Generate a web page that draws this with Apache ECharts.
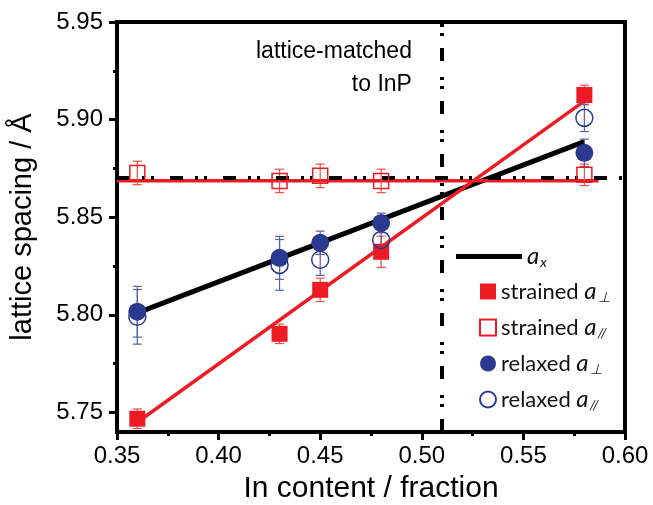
<!DOCTYPE html>
<html>
<head>
<meta charset="utf-8">
<script src="https://cdn.jsdelivr.net/npm/echarts@6/dist/echarts.min.js"></script>
<style>html,body{margin:0;padding:0;background:#fff;}#c{width:653px;height:505px;}</style>
</head>
<body>
<div id="c"></div>
<script>
// ---- data ----
const inContent = [0.36, 0.43, 0.45, 0.48, 0.58];
const strainedPerp = [5.7468, 5.7903, 5.8128, 5.8323, 5.9126];
const strainedPerpErr = [0.005, 0.005, 0.006, 0.008, 0.005];
const strainedPar = [5.8727, 5.8686, 5.8712, 5.8686, 5.8717];
const strainedParErr = [0.006, 0.006, 0.006, 0.006, 0.0055];
const relaxedPerp = [5.8016, 5.8292, 5.8369, 5.8471, 5.8830];
const relaxedPerpErr = [0.013, 0.011, 0.006, 0.005, 0.007];
const relaxedPar = [5.7990, 5.8256, 5.8282, 5.8384, 5.9009];
const relaxedParErr = [0.014, 0.013, 0.008, 0.007, 0.007];

const axFit = [[0.36, 5.801], [0.58, 5.8887]];
const strainedPerpFit = [[0.36, 5.745], [0.582, 5.911]];
const strainedParFit = [[0.35, 5.8687], [0.587, 5.8687]];
const inpLattice = 5.868;
const matchedX = 0.51;
const annotationPos = [0.4954, 5.926];

const xTicks = [0.35, 0.40, 0.45, 0.50, 0.55, 0.60];
const yTicks = [5.75, 5.80, 5.85, 5.90, 5.95];
const yMinorTicks = [5.775, 5.825, 5.875, 5.925];

// ---- chart ----
const RED = '#ed1c24', RED_ERR = '#f0503f', NAVY = '#2b3990', NAVY_ERR = '#5a5ea8';
const pair = (xs, ys) => xs.map((x, i) => [x, ys[i]]);
const errData = (xs, ys, es) => xs.map((x, i) => [x, ys[i], es[i]]);

function errSeries(data, color) {
  return {
    type: 'custom', silent: true, z: 3, legendHoverLink: false,
    renderItem: function (params, api) {
      const x = api.value(0), y = api.value(1), e = api.value(2);
      const t = api.coord([x, y + e]), b = api.coord([x, y - e]);
      const w = 4.5;
      const st = { stroke: color, lineWidth: 1.2 };
      return { type: 'group', children: [
        { type: 'line', shape: { x1: t[0], y1: t[1], x2: b[0], y2: b[1] }, style: st },
        { type: 'line', shape: { x1: t[0] - w, y1: t[1], x2: t[0] + w, y2: t[1] }, style: st },
        { type: 'line', shape: { x1: b[0] - w, y1: b[1], x2: b[0] + w, y2: b[1] }, style: st }
      ]};
    },
    encode: { x: 0, y: 1 },
    data: data
  };
}

const dashDot = [13, 12, 3, 6, 3, 16];
const rich = {
  n: { fontFamily: 'Lato', fontSize: 22, color: '#111', lineHeight: 24 },
  i: { fontFamily: 'Lato', fontSize: 24, fontStyle: 'italic', color: '#111', lineHeight: 24 },
  s: { fontFamily: 'Lato', fontSize: 14, fontStyle: 'italic', color: '#111', lineHeight: 14, padding: [11, 0, 0, 1] }
};
const legendLabels = {
  'ax': '{i|a}{s|x}',
  'strained a⊥': '{n|strained }{i|a}{s|⊥}',
  'strained a//': '{n|strained }{i|a}{s|//}',
  'relaxed a⊥': '{n|relaxed }{i|a}{s|⊥}',
  'relaxed a//': '{n|relaxed }{i|a}{s|//}'
};

const chart = echarts.init(document.getElementById('c'));
chart.setOption({
  animation: false,
  backgroundColor: '#fff',
  grid: { left: 117, right: 28, top: 22, bottom: 73, outerBoundsMode: 'none', containLabel: false,
    show: true, borderColor: '#000', borderWidth: 4, backgroundColor: 'transparent' },
  legend: [
    { data: [{ name: 'ax', icon: 'rect' }], orient: 'vertical', left: 451, top: 239, itemWidth: 66, itemHeight: 5, itemGap: 0,
      formatter: n => legendLabels[n], textStyle: { rich: rich }, selectedMode: false },
    { data: ['strained a⊥', 'strained a//', 'relaxed a⊥', 'relaxed a//'], orient: 'vertical', left: 474, top: 274,
      itemWidth: 16, itemHeight: 16, itemGap: 11, formatter: n => legendLabels[n], textStyle: { rich: rich }, selectedMode: false }
  ],
  xAxis: {
    type: 'value', min: 0.35, max: 0.60, interval: 0.05,
    name: 'In content / fraction', nameLocation: 'middle', nameGap: 42,
    nameTextStyle: { fontFamily: 'Liberation Sans', fontSize: 30, color: '#000' },
    axisLine: { lineStyle: { color: '#000', width: 4 } },
    axisTick: { show: true, inside: false, length: 8, lineStyle: { width: 3, color: '#000' } },
    minorTick: { show: true, splitNumber: 2, length: 4, lineStyle: { width: 3, color: '#000' } },
    splitLine: { show: false },
    axisLabel: { fontFamily: 'Liberation Sans', fontSize: 24, color: '#000', margin: 12,
      customValues: xTicks, formatter: v => v.toFixed(2) }
  },
  yAxis: [
    {
      type: 'value', min: 5.74, max: 5.95,
      name: 'lattice spacing / Å', nameLocation: 'middle', nameGap: 80,
      nameTextStyle: { fontFamily: 'Liberation Sans', fontSize: 29, color: '#000' },
      axisLine: { lineStyle: { color: '#000', width: 4 } },
      axisTick: { show: true, length: 8, customValues: yTicks, lineStyle: { width: 3, color: '#000' } },
      splitLine: { show: false },
      axisLabel: { fontFamily: 'Liberation Sans', fontSize: 24, color: '#000', margin: 14,
        customValues: yTicks, formatter: v => v.toFixed(2) }
    },
    {
      type: 'value', min: 5.74, max: 5.95, position: 'left',
      axisLine: { show: false },
      axisTick: { show: true, length: 4, customValues: yMinorTicks, lineStyle: { width: 3, color: '#000' } },
      axisLabel: { show: false, customValues: yMinorTicks },
      splitLine: { show: false }
    }
  ],
  series: [
    {
      name: 'guides', type: 'line', data: [], silent: true, z: 1,
      markLine: {
        silent: true, symbol: 'none', label: { show: false }, animation: false,
        lineStyle: { color: '#000', width: 4, type: dashDot, opacity: 1 },
        data: [{ xAxis: matchedX }, { yAxis: inpLattice }]
      }
    },
    { name: 'ax', type: 'line', data: axFit, symbol: 'none', z: 2, silent: true,
      lineStyle: { color: '#000', width: 5 }, itemStyle: { color: '#000' } },
    { name: 'strained fit', type: 'line', data: strainedPerpFit, symbol: 'none', z: 2, silent: true,
      lineStyle: { color: RED, width: 3.5 } },
    { name: 'strained par fit', type: 'line', data: strainedParFit, symbol: 'none', z: 2, silent: true,
      lineStyle: { color: RED, width: 3.5 } },
    errSeries(errData(inContent, strainedPerp, strainedPerpErr), RED_ERR),
    errSeries(errData(inContent, strainedPar, strainedParErr), RED_ERR),
    errSeries(errData(inContent, relaxedPar, relaxedParErr), NAVY_ERR),
    errSeries(errData(inContent, relaxedPerp, relaxedPerpErr), NAVY_ERR),
    { name: 'strained a⊥', type: 'scatter', symbol: 'rect', symbolSize: 16, z: 5,
      itemStyle: { color: RED, opacity: 1 }, data: pair(inContent, strainedPerp) },
    { name: 'strained a//', type: 'scatter', symbol: 'rect', symbolSize: 15, z: 5,
      itemStyle: { color: 'rgba(255,255,255,0)', borderColor: RED, borderWidth: 1.5, opacity: 1 }, data: pair(inContent, strainedPar) },
    { name: 'relaxed a//', type: 'scatter', symbol: 'circle', symbolSize: 17, z: 5,
      itemStyle: { color: 'rgba(255,255,255,0)', borderColor: NAVY, borderWidth: 1.5, opacity: 1 }, data: pair(inContent, relaxedPar) },
    { name: 'relaxed a⊥', type: 'scatter', symbol: 'circle', symbolSize: 18, z: 6,
      itemStyle: { color: NAVY, opacity: 1 }, data: pair(inContent, relaxedPerp) },
    { name: 'annotation', type: 'scatter', symbolSize: 1, silent: true, z: 7,
      itemStyle: { color: 'rgba(0,0,0,0)', opacity: 1 },
      label: { show: true, position: [0, 0], align: 'right', verticalAlign: 'middle',
        formatter: 'lattice-matched\nto InP', fontFamily: 'Liberation Sans', fontSize: 23, lineHeight: 33, color: '#000' },
      data: [annotationPos] }
  ]
});
</script>
</body>
</html>
